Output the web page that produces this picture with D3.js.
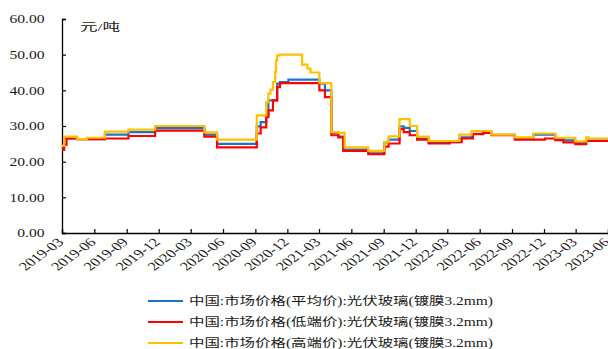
<!DOCTYPE html>
<html>
<head>
<meta charset="utf-8">
<script src="https://cdn.jsdelivr.net/npm/d3@7/dist/d3.min.js"></script>
<style>
  html, body { margin: 0; padding: 0; background: #fff; }
  svg { display: block; }
  text { font-family: "Liberation Serif", "Times New Roman", "Noto Sans CJK SC", serif; fill: #1a1a1a; }
</style>
</head>
<body>
<svg id="chart" width="608" height="349"></svg>
<script>
// Photovoltaic glass (coated 3.2mm) market price, yuan per tonne — change points of a step series
const dates = [
  "2019-03-01","2019-03-07","2019-03-14","2019-04-13","2019-05-11","2019-07-01","2019-09-06","2019-11-21",
  "2020-04-09","2020-05-15","2020-09-05","2020-09-16","2020-10-02","2020-10-08","2020-10-14","2020-10-21",
  "2020-10-27","2020-10-30","2020-11-02","2020-11-10","2020-12-04","2021-01-12","2021-01-27","2021-02-05",
  "2021-03-02","2021-03-18","2021-04-05","2021-04-25","2021-05-09","2021-05-13","2021-07-19","2021-09-03",
  "2021-09-15","2021-10-16","2021-10-28","2021-11-14","2021-12-05","2022-01-07","2022-03-08","2022-04-04",
  "2022-04-11","2022-05-09","2022-05-13","2022-06-11","2022-07-04","2022-09-09","2022-11-01","2022-12-04",
  "2023-01-02","2023-01-25","2023-02-28","2023-03-31","2023-04-07","2023-06-01"
];
const avgPrice = [
  24.0, 26.5, 26.5, 26.3, 26.3, 27.6, 28.3, 29.4,
  27.6, 25.0, 29.9, 31.1, 33.0, 37.2, 37.2, 37.2,
  37.2, 37.2, 41.9, 42.3, 43.0, 43.0, 43.0, 43.0,
  41.9, 40.0, 28.1, 27.0, 23.4, 23.4, 22.8, 25.4,
  26.2, 29.9, 29.5, 28.6, 26.5, 25.5, 25.5, 26.5,
  26.8, 27.8, 27.8, 28.3, 27.5, 26.5, 27.6, 27.6,
  26.3, 26.0, 25.4, 25.9, 25.9, 25.9
];
const lowPrice = [
  23.3, 24.8, 26.5, 26.3, 26.3, 26.5, 27.2, 28.7,
  27.0, 24.0, 27.9, 29.6, 32.5, 34.4, 34.4, 37.2,
  37.2, 37.2, 40.9, 42.0, 42.0, 42.0, 42.0, 42.0,
  40.0, 38.1, 27.4, 26.8, 23.0, 23.0, 22.1, 24.2,
  25.1, 29.1, 28.3, 27.4, 26.2, 25.1, 25.5, 25.5,
  26.5, 26.5, 27.7, 28.1, 27.4, 26.2, 26.2, 26.5,
  26.0, 25.4, 24.9, 25.8, 25.8, 25.8
];
const highPrice = [
  24.5, 27.0, 27.0, 26.3, 26.7, 28.4, 29.0, 30.0,
  28.2, 26.2, 33.0, 33.0, 36.7, 39.1, 40.2, 42.3,
  45.1, 48.4, 49.8, 50.0, 50.0, 47.2, 46.1, 45.0,
  42.0, 42.0, 28.3, 28.1, 28.1, 24.0, 23.0, 25.5,
  27.1, 31.9, 31.9, 30.0, 27.0, 25.8, 25.8, 27.6,
  27.6, 28.6, 28.6, 28.6, 27.6, 26.8, 27.9, 27.9,
  26.7, 26.7, 25.7, 26.8, 26.5, 26.5
];
const seriesNames = [
  "中国:市场价格(平均价):光伏玻璃(镀膜3.2mm)",
  "中国:市场价格(低端价):光伏玻璃(镀膜3.2mm)",
  "中国:市场价格(高端价):光伏玻璃(镀膜3.2mm)"
];
const seriesColors = ["#1c74c6", "#ff0000", "#ffc000"];
const yTicks = [0, 10, 20, 30, 40, 50, 60];
const xTickLabels = [
  "2019-03","2019-06","2019-09","2019-12","2020-03","2020-06","2020-09","2020-12","2021-03",
  "2021-06","2021-09","2021-12","2022-03","2022-06","2022-09","2022-12","2023-03","2023-06"
];
const unitLabel = "元/吨";

const parse = d3.timeParse("%Y-%m-%d");
const parseMonth = d3.timeParse("%Y-%m");
const when = dates.map(parse);
const tickDates = xTickLabels.map(parseMonth);

const svg = d3.select("#chart");
const plot = { left: 62, right: 608, top: 19, bottom: 233 };

const x = d3.scaleTime()
  .domain([tickDates[0], tickDates[tickDates.length - 1]])
  .range([plot.left, plot.right]);
const y = d3.scaleLinear().domain([0, 60]).range([plot.bottom, plot.top]);

// Axes with inward ticks; labels drawn separately so they can be widened
const yAxis = d3.axisLeft(y).tickValues(yTicks).tickSize(-4).tickFormat("");
const xAxis = d3.axisBottom(x).tickValues(tickDates).tickSize(-4).tickFormat("");

const gy = svg.append("g").attr("transform", `translate(${plot.left},0)`).call(yAxis);
const gx = svg.append("g").attr("transform", `translate(0,${plot.bottom})`).call(xAxis);
[gx, gy].forEach(g => {
  g.select(".domain").attr("stroke", "#000").attr("stroke-width", 1.3);
  g.selectAll(".tick line").attr("stroke", "#000").attr("stroke-width", 1.2);
});

const fmt = d3.format(".2f");
svg.append("g").selectAll("text").data(yTicks).join("text")
  .attr("transform", d => `translate(44.5,${y(d) + 4.4}) scale(1.27,1)`)
  .attr("text-anchor", "end")
  .attr("font-size", 12.3)
  .text(fmt);

svg.append("g").selectAll("text").data(tickDates).join("text")
  .attr("transform", (d, i) => `translate(${x(d) + 2.5},${plot.bottom + 10}) scale(1.38,1) rotate(-45)`)
  .attr("text-anchor", "end")
  .attr("font-size", 12)
  .text((d, i) => xTickLabels[i]);

svg.append("text")
  .attr("x", 80).attr("y", 31)
  .attr("font-size", 11)
  .attr("textLength", 40)
  .attr("lengthAdjust", "spacingAndGlyphs")
  .text(unitLabel);

// Price lines (step-after between change points)
const valueSets = [avgPrice, lowPrice, highPrice];
const line = d3.line()
  .x(d => x(d[0]))
  .y(d => y(d[1]))
  .curve(d3.curveStepAfter);

svg.append("g").selectAll("path").data(valueSets).join("path")
  .attr("d", vals => line(when.map((t, i) => [t, vals[i]])))
  .attr("fill", "none")
  .attr("stroke", (d, i) => seriesColors[i])
  .attr("stroke-width", 2.2)
  .attr("stroke-linejoin", "miter");

// Legend
const legend = svg.append("g");
const legendY = [301, 322, 343];
seriesNames.forEach((name, i) => {
  legend.append("line")
    .attr("x1", 148).attr("x2", 183)
    .attr("y1", legendY[i]).attr("y2", legendY[i])
    .attr("stroke", seriesColors[i]).attr("stroke-width", 2.2);
  legend.append("text")
    .attr("x", 189).attr("y", legendY[i] + 4)
    .attr("font-size", 11.5)
    .attr("textLength", 304)
    .attr("lengthAdjust", "spacingAndGlyphs")
    .text(name);
});
</script>
</body>
</html>
